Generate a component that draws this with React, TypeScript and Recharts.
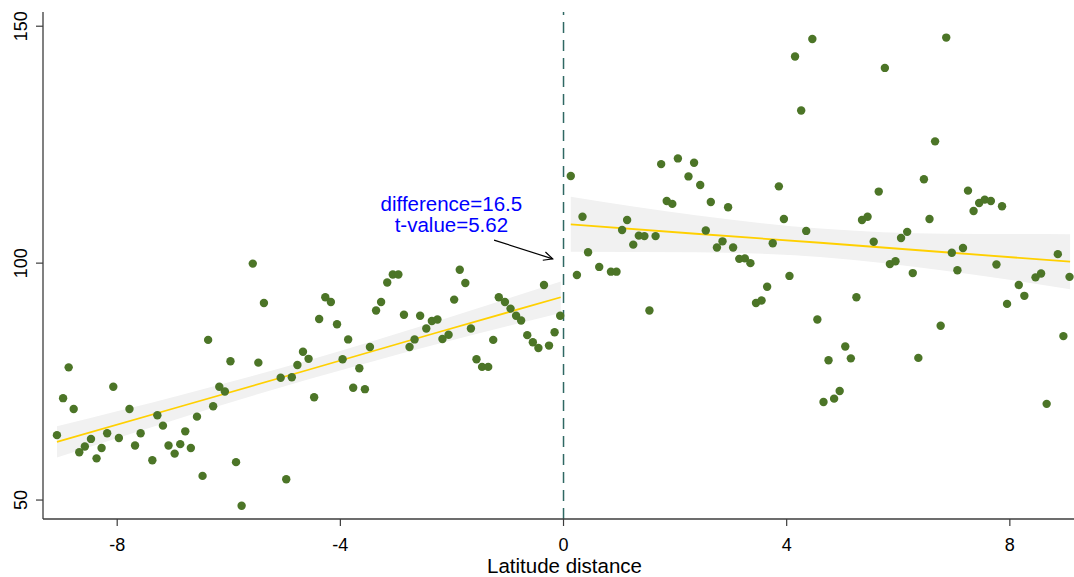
import React from 'react';
import {
  ComposedChart,
  Scatter,
  Line,
  Area,
  XAxis,
  YAxis,
  ReferenceLine,
  ReferenceDot,
} from 'recharts';

// ---- data ----
const leftPoints: [number, number][] = [
  [-9.08, 63.7], [-8.97, 71.5], [-8.87, 78.0], [-8.78, 69.2], [-8.68, 60.1], [-8.58, 61.3],
  [-8.47, 62.9], [-8.37, 58.8], [-8.28, 61.0], [-8.18, 64.1], [-8.07, 73.9], [-7.97, 63.1],
  [-7.78, 69.2], [-7.68, 61.5], [-7.58, 64.1], [-7.37, 58.4], [-7.28, 67.9], [-7.18, 65.7],
  [-7.08, 61.5], [-6.97, 59.8], [-6.87, 61.8], [-6.78, 64.5], [-6.68, 61.0], [-6.57, 67.6],
  [-6.47, 55.1], [-6.37, 83.8], [-6.28, 69.8], [-6.17, 73.9], [-6.07, 72.9], [-5.97, 79.3],
  [-5.87, 58.0], [-5.77, 48.8], [-5.57, 99.9], [-5.47, 79.0], [-5.37, 91.6], [-5.07, 75.8],
  [-4.97, 54.4], [-4.87, 75.9], [-4.77, 78.5], [-4.67, 81.3], [-4.57, 79.8], [-4.47, 71.7],
  [-4.38, 88.2], [-4.27, 92.8], [-4.17, 91.8], [-4.06, 87.1], [-3.96, 79.7], [-3.86, 83.9],
  [-3.77, 73.7], [-3.66, 77.8], [-3.56, 73.4], [-3.47, 82.3], [-3.36, 90.0], [-3.27, 91.8],
  [-3.16, 95.9], [-3.06, 97.6], [-2.96, 97.6], [-2.86, 89.1], [-2.76, 82.3], [-2.67, 83.9],
  [-2.57, 88.9], [-2.46, 86.2], [-2.36, 87.8], [-2.26, 88.1], [-2.17, 84.0], [-2.06, 84.9],
  [-1.96, 92.3], [-1.86, 98.6], [-1.76, 95.8], [-1.66, 86.2], [-1.56, 79.7], [-1.46, 78.1],
  [-1.35, 78.1], [-1.26, 83.8], [-1.16, 92.8], [-1.05, 91.8], [-0.95, 90.4], [-0.85, 88.9],
  [-0.76, 87.9], [-0.65, 84.8], [-0.55, 83.3], [-0.45, 82.1], [-0.35, 95.4], [-0.26, 82.6],
  [-0.16, 85.4], [-0.06, 88.9],
];

const rightPoints: [number, number][] = [
  [0.13, 118.4], [0.24, 97.5], [0.34, 109.8], [0.44, 102.3], [0.64, 99.2], [0.85, 98.2],
  [0.95, 98.2], [1.05, 107.0], [1.14, 109.1], [1.25, 103.9], [1.35, 105.8], [1.45, 105.7],
  [1.54, 90.0], [1.65, 105.7], [1.75, 120.9], [1.85, 113.1], [1.95, 112.5], [2.05, 122.1],
  [2.24, 118.3], [2.34, 121.2], [2.45, 116.5], [2.55, 106.9], [2.64, 112.9], [2.75, 103.3],
  [2.85, 104.6], [2.95, 111.8], [3.04, 103.3], [3.15, 100.9], [3.25, 101.0], [3.35, 100.0],
  [3.45, 91.6], [3.55, 92.1], [3.65, 95.0], [3.75, 104.2], [3.86, 116.2], [3.95, 109.3],
  [4.05, 97.3], [4.15, 143.6], [4.26, 132.2], [4.35, 106.8], [4.46, 147.3], [4.55, 88.1],
  [4.66, 70.7], [4.75, 79.5], [4.85, 71.4], [4.95, 73.0], [5.05, 82.4], [5.15, 79.9],
  [5.25, 92.8], [5.35, 109.1], [5.45, 109.8], [5.56, 104.5], [5.65, 115.1], [5.76, 141.2],
  [5.85, 99.8], [5.95, 100.4], [6.05, 105.3], [6.16, 106.6], [6.26, 97.9], [6.36, 80.0],
  [6.46, 117.7], [6.56, 109.3], [6.66, 125.7], [6.76, 86.8], [6.86, 147.6], [6.96, 102.2],
  [7.06, 98.5], [7.16, 103.2], [7.25, 115.3], [7.35, 111.0], [7.45, 112.7], [7.55, 113.4],
  [7.66, 113.1], [7.76, 99.7], [7.86, 112.0], [7.95, 91.4], [8.16, 95.4], [8.26, 93.1],
  [8.46, 97.0], [8.56, 97.8], [8.66, 70.3], [8.86, 101.9], [8.96, 84.6], [9.07, 97.1],
];

// fitted lines and confidence bands (read at five x positions)
const leftFitX = [-9.08, -6.82, -4.57, -2.31, -0.05];
const leftFitY = [62.3, 69.9, 77.5, 85.2, 92.8];
const leftBandLow = [59.0, 67.5, 75.5, 82.8, 89.5];
const leftBandHigh = [65.6, 72.3, 79.5, 87.6, 96.1];

const rightFitX = [0.13, 2.37, 4.6, 6.84, 9.08];
const rightFitY = [108.2, 106.2, 104.3, 102.3, 100.3];
const rightBandLow = [102.4, 102.3, 101.3, 98.4, 94.5];
const rightBandHigh = [114.0, 110.1, 107.3, 106.2, 106.1];

const xTicks = [-8, -4, 0, 4, 8];
const yTicks = [50, 100, 150];
const xDomain: [number, number] = [-9.33, 9.15];
const yDomain: [number, number] = [46, 153];

const annotationLines = ['difference=16.5', 't-value=5.62'];
const annotationAt = { x: -2.01, y: 110.9 };
const arrowFrom = { x: -1.245, y: 104.85 };
const arrowTo = { x: -0.194, y: 100.9 };

// ---- build series ----
const leftData = leftPoints.map(([x, y]) => ({ x, y }));
const rightData = rightPoints.map(([x, y]) => ({ x, y }));
const leftFit = leftFitX.map((x, i) => ({ x, y: leftFitY[i] }));
const rightFit = rightFitX.map((x, i) => ({ x, y: rightFitY[i] }));
const leftBand = leftFitX.map((x, i) => ({ x, band: [leftBandLow[i], leftBandHigh[i]] }));
const rightBand = rightFitX.map((x, i) => ({ x, band: [rightBandLow[i], rightBandHigh[i]] }));

const FONT = '"Liberation Sans", Arial, Helvetica, sans-serif';
const AXIS = '#3c3c3c';
const DOT = '#4c7527';
const FIT = '#FFD000';
const BAND = '#f1f1f1';

const YTick = (props: any) => {
  const { x, y, payload } = props;
  const tx = x + 1;
  return (
    <text
      x={tx}
      y={y}
      transform={`rotate(-90, ${tx}, ${y})`}
      textAnchor="middle"
      fontSize={18}
      fontFamily={FONT}
      fill="#000"
    >
      {payload.value}
    </text>
  );
};

const XTick = (props: any) => {
  const { x, y, payload } = props;
  return (
    <text x={x} y={y} dy={23} textAnchor="middle" fontSize={18} fontFamily={FONT} fill="#000">
      {payload.value}
    </text>
  );
};

const Arrow = (props: any) => {
  const { x1, y1, x2, y2 } = props;
  const ang = Math.atan2(y2 - y1, x2 - x1);
  const len = 10;
  const spread = 0.45;
  const ax1 = x2 - len * Math.cos(ang - spread);
  const ay1 = y2 - len * Math.sin(ang - spread);
  const ax2 = x2 - len * Math.cos(ang + spread);
  const ay2 = y2 - len * Math.sin(ang + spread);
  return (
    <g>
      <line x1={x1} y1={y1} x2={x2} y2={y2} stroke="#000" strokeWidth={1.2} />
      <polyline
        points={`${ax1},${ay1} ${x2},${y2} ${ax2},${ay2}`}
        fill="none"
        stroke="#000"
        strokeWidth={1.2}
      />
    </g>
  );
};

const AnnotationLabel = (props: any) => {
  const vb = props.viewBox || {};
  const cx = (vb.x || 0) + (vb.width || 0) / 2;
  const cy = (vb.y || 0) + (vb.height || 0) / 2;
  return (
    <text textAnchor="middle" fontSize={20.5} fontFamily={FONT} fill="#0000FF">
      {annotationLines.map((t, i) => (
        <tspan key={i} x={cx} y={cy + i * 21}>
          {t}
        </tspan>
      ))}
    </text>
  );
};

const XLabel = (props: any) => {
  const vb = props.viewBox || {};
  return (
    <text
      x={vb.x + vb.width / 2 + 6}
      y={vb.y + 54}
      textAnchor="middle"
      fontSize={20.5}
      fontFamily={FONT}
      fill="#000"
    >
      Latitude distance
    </text>
  );
};

export default function App() {
  return (
    <div style={{ position: 'absolute', left: 0, top: 0, background: '#fff' }}>
      <ComposedChart
        width={1074}
        height={577}
        margin={{ top: 12, right: 0, bottom: 0, left: 0 }}
      >
        <XAxis
          type="number"
          dataKey="x"
          domain={xDomain}
          ticks={xTicks}
          allowDataOverflow
          height={58}
          tickSize={7}
          tickMargin={2}
          axisLine={{ stroke: AXIS, strokeWidth: 1.3 }}
          tickLine={{ stroke: AXIS, strokeWidth: 1.2 }}
          tick={<XTick />}
          label={<XLabel />}
        />
        <YAxis
          type="number"
          domain={yDomain}
          ticks={yTicks}
          allowDataOverflow
          width={43}
          tickSize={7}
          tickMargin={10}
          axisLine={{ stroke: AXIS, strokeWidth: 1.3 }}
          tickLine={{ stroke: AXIS, strokeWidth: 1.2 }}
          tick={<YTick />}
        />
        <Area
          data={leftBand}
          dataKey="band"
          type="monotone"
          stroke="none"
          fill={BAND}
          fillOpacity={1}
          isAnimationActive={false}
          activeDot={false}
          dot={false}
        />
        <Area
          data={rightBand}
          dataKey="band"
          type="monotone"
          stroke="none"
          fill={BAND}
          fillOpacity={1}
          isAnimationActive={false}
          activeDot={false}
          dot={false}
        />
        <ReferenceLine
          x={0}
          stroke="#2f6863"
          strokeWidth={1.5}
          strokeDasharray="11 7"
        />
        <Line
          data={leftFit}
          dataKey="y"
          type="linear"
          stroke={FIT}
          strokeWidth={1.8}
          dot={false}
          activeDot={false}
          isAnimationActive={false}
        />
        <Line
          data={rightFit}
          dataKey="y"
          type="linear"
          stroke={FIT}
          strokeWidth={1.8}
          dot={false}
          activeDot={false}
          isAnimationActive={false}
        />
        <Scatter
          data={leftData}
          dataKey="y"
          fill={DOT}
          isAnimationActive={false}
          shape={(p: any) => <circle cx={p.cx} cy={p.cy} r={4.2} fill={DOT} />}
        />
        <Scatter
          data={rightData}
          dataKey="y"
          fill={DOT}
          isAnimationActive={false}
          shape={(p: any) => <circle cx={p.cx} cy={p.cy} r={4.2} fill={DOT} />}
        />
        <ReferenceLine
          segment={[arrowFrom, arrowTo]}
          ifOverflow="visible"
          shape={(p: any) => <Arrow {...p} />}
        />
        <ReferenceDot
          x={annotationAt.x}
          y={annotationAt.y}
          r={0}
          fill="none"
          stroke="none"
          ifOverflow="visible"
          label={<AnnotationLabel />}
        />
      </ComposedChart>
    </div>
  );
}
